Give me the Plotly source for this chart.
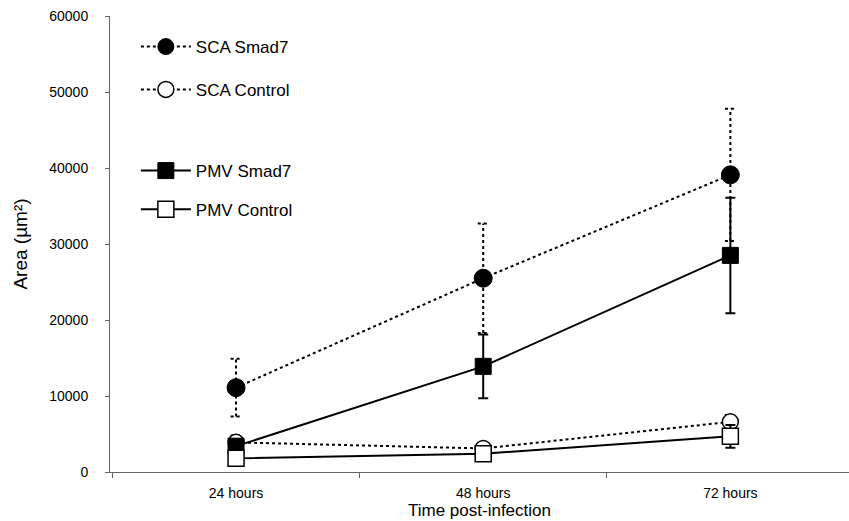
import plotly.graph_objects as go

categories = ["24 hours", "48 hours", "72 hours"]
xpos = [0, 1, 2]
boundaries = [-0.5, 0.5, 1.5, 2.5]
yticks = [0, 10000, 20000, 30000, 40000, 50000, 60000]
ytick_labels = [str(v) for v in yticks]

sca_smad7 = [11100, 25500, 39100]
sca_smad7_sd = [3800, 7200, 8700]
sca_control = [3900, 3100, 6600]
sca_control_sd = [900, 600, 900]
pmv_smad7 = [3400, 13900, 28500]
pmv_smad7_sd = [700, 4200, 7600]
pmv_control = [1800, 2400, 4700]
pmv_control_sd = [500, 400, 1500]

FONT = "Liberation Sans, Arial, Helvetica, sans-serif"
fig = go.Figure()


def dotted_err(means, sds, cap=0.022):
    xs, ys = [], []
    for x, m, s in zip(xpos, means, sds):
        xs += [x, x, None, x - cap, x + cap, None, x - cap, x + cap, None]
        ys += [m - s, m + s, None, m + s, m + s, None, m - s, m - s, None]
    return xs, ys


# dotted error bars for SCA series
for means, sds in [(sca_smad7, sca_smad7_sd), (sca_control, sca_control_sd)]:
    ex, ey = dotted_err(means, sds)
    fig.add_trace(go.Scatter(x=ex, y=ey, mode="lines", showlegend=False,
                             hoverinfo="skip",
                             line=dict(color="black", width=2, dash="dot")))

fig.add_trace(go.Scatter(
    x=xpos, y=sca_smad7, name="SCA Smad7", mode="lines+markers",
    line=dict(color="black", width=2, dash="dot"),
    marker=dict(symbol="circle", size=18, color="black",
                line=dict(color="black", width=1)),
    legend="legend"))
fig.add_trace(go.Scatter(
    x=xpos, y=sca_control, name="SCA Control", mode="lines+markers",
    line=dict(color="black", width=2, dash="dot"),
    marker=dict(symbol="circle", size=16, color="white",
                line=dict(color="black", width=1.5)),
    legend="legend2"))
fig.add_trace(go.Scatter(
    x=xpos, y=pmv_smad7, name="PMV Smad7", mode="lines+markers",
    line=dict(color="black", width=2),
    error_y=dict(type="data", array=pmv_smad7_sd, color="black",
                 thickness=2, width=5),
    marker=dict(symbol="square", size=16, color="black",
                line=dict(color="black", width=1)),
    legend="legend3"))
fig.add_trace(go.Scatter(
    x=xpos, y=pmv_control, name="PMV Control", mode="lines+markers",
    line=dict(color="black", width=2),
    error_y=dict(type="data", array=pmv_control_sd, color="black",
                 thickness=2, width=5),
    marker=dict(symbol="square", size=16, color="white",
                line=dict(color="black", width=1.5)),
    legend="legend4"))

leg = dict(x=0.035, xanchor="left", yanchor="middle", bgcolor="rgba(0,0,0,0)",
           itemwidth=50,
           font=dict(family=FONT, size=17, color="black"))

fig.update_layout(
    width=849, height=521,
    margin=dict(l=110, r=0, t=16, b=49, autoexpand=False),
    paper_bgcolor="white", plot_bgcolor="white",
    font=dict(family=FONT, color="black"),
    legend=dict(leg, y=0.932),
    legend2=dict(leg, y=0.838),
    legend3=dict(leg, y=0.660),
    legend4=dict(leg, y=0.575),
    xaxis=dict(
        range=[-0.51, 2.48], tickmode="array", tickvals=xpos,
        ticktext=categories,
        ticks="", showgrid=False, zeroline=False,
        showline=True, linecolor="#666", linewidth=1,
        tickfont=dict(size=14, color="black"), ticklabelstandoff=8,
        minor=dict(tickmode="array", tickvals=boundaries, ticks="outside",
                   ticklen=5, tickcolor="#666", showgrid=False),
        title=dict(text="Time post-infection", font=dict(size=17), standoff=4),
    ),
    yaxis=dict(
        range=[0, 60000], tickmode="array", tickvals=yticks,
        ticktext=ytick_labels,
        ticks="outside", ticklen=4, tickcolor="#666",
        showgrid=False, zeroline=False,
        showline=True, linecolor="#666", linewidth=1,
        tickfont=dict(size=14, color="black"), ticklabelstandoff=14,
        title=dict(text="Area (µm²)", font=dict(size=19), standoff=16),
    ),
)

fig.write_html("out.html", config={"displayModeBar": False},
               post_script="document.body.style.margin='0';")
